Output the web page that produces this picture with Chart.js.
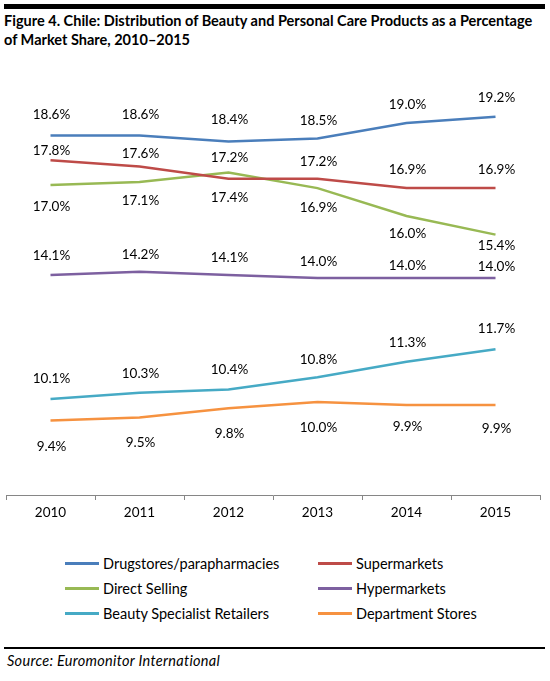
<!DOCTYPE html>
<html>
<head>
<meta charset="utf-8">
<script src="https://cdn.jsdelivr.net/npm/chart.js@4/dist/chart.umd.min.js"></script>
<style>
  body { margin: 0; background: #fff; font-family: Lato, sans-serif; color: #000; }
  #page { position: relative; width: 550px; height: 681px; overflow: hidden; }
  #topbar { position: absolute; left: 4px; top: 4px; width: 541px; height: 5px; background: #000; }
  #title { position: absolute; left: 4px; top: 11px; font-weight: bold; font-size: 13px; line-height: 19px; white-space: nowrap; }
  #chart { position: absolute; left: 0; top: 0; }
  .legrow { position: absolute; height: 20px; display: flex; align-items: center; font-size: 14.5px; white-space: nowrap; }
  .legrow span.swatch { display: inline-block; width: 34px; height: 3px; margin-right: 4px; }
  #rule { position: absolute; left: 4px; top: 647px; width: 541px; height: 2px; background: #000; }
  #source { position: absolute; left: 7px; top: 652px; font-style: italic; font-size: 14.5px; letter-spacing: 0.3px; line-height: 18px; }
</style>
</head>
<body>
<div id="page">
  <div id="topbar"></div>
  <div id="title">Figure 4. Chile: Distribution of Beauty and Personal Care Products as a Percentage<br>of Market Share, 2010–2015</div>
  <canvas id="chart" width="550" height="520"></canvas>
  <div id="legend"></div>
  <div id="rule"></div>
  <div id="source">Source: Euromonitor International</div>
</div>
<script>
// chart values
var years = ['2010', '2011', '2012', '2013', '2014', '2015'];
var drugstores = [18.6, 18.6, 18.4, 18.5, 19.0, 19.2];
var supermarkets = [17.8, 17.6, 17.2, 17.2, 16.9, 16.9];
var directSelling = [17.0, 17.1, 17.4, 16.9, 16.0, 15.4];
var hypermarkets = [14.1, 14.2, 14.1, 14.0, 14.0, 14.0];
var beautySpecialists = [10.1, 10.3, 10.4, 10.8, 11.3, 11.7];
var departmentStores = [9.4, 9.5, 9.8, 10.0, 9.9, 9.9];

// where each value label sits relative to its point (px, minus = above)
var labelShift = {
  drugstores: [-21, -21, -22, -18, -18, -19],
  supermarkets: [-10, -13, -21, -17, -18, -18],
  directSelling: [22, 19, 25, 20, 18, 11],
  hypermarkets: [-19, -17, -17, -16, -12, -11],
  beautySpecialists: [-20, -19, -20, -18, -19, -21],
  departmentStores: [26, 25, 25, 26, 22, 24]
};

function series(label, data, color, shift) {
  return {
    label: label,
    data: data,
    borderColor: color,
    backgroundColor: color,
    borderWidth: 2.5,
    pointRadius: 0,
    tension: 0,
    fill: false,
    clip: false,
    labelShift: shift
  };
}

var valueLabels = {
  id: 'valueLabels',
  afterDatasetsDraw: function(chart) {
    var ctx = chart.ctx;
    ctx.save();
    ctx.font = '13.5px Lato';
    ctx.fillStyle = '#000';
    ctx.textAlign = 'center';
    ctx.textBaseline = 'middle';
    chart.data.datasets.forEach(function(ds, i) {
      chart.getDatasetMeta(i).data.forEach(function(pt, j) {
        ctx.fillText(ds.data[j].toFixed(1) + '%', pt.x + 1, pt.y + ds.labelShift[j]);
      });
    });
    ctx.restore();
  }
};

var chart = new Chart(document.getElementById('chart'), {
  type: 'line',
  data: {
    labels: years,
    datasets: [
      series('Drugstores/parapharmacies', drugstores, '#4A7EBB', labelShift.drugstores),
      series('Supermarkets', supermarkets, '#BE4B48', labelShift.supermarkets),
      series('Direct Selling', directSelling, '#98B954', labelShift.directSelling),
      series('Hypermarkets', hypermarkets, '#7D60A0', labelShift.hypermarkets),
      series('Beauty Specialist Retailers', beautySpecialists, '#46AAC5', labelShift.beautySpecialists),
      series('Department Stores', departmentStores, '#F69240', labelShift.departmentStores)
    ]
  },
  options: {
    responsive: false,
    animation: false,
    layout: { padding: { top: 92, left: 6, right: 10, bottom: 0 } },
    plugins: { legend: { display: false }, tooltip: { enabled: false } },
    scales: {
      x: {
        offset: true,
        grid: { offset: true, drawOnChartArea: false, tickLength: 5, color: '#868686' },
        border: { color: '#868686', width: 1 },
        ticks: { color: '#000', padding: 5, font: { family: 'Lato', size: 13.5 } },
        afterFit: function(s) { s.height = 25; }
      },
      y: { display: false, min: 7, max: 20 }
    }
  },
  plugins: [valueLabels]
});

// legend in two columns, built from the datasets
var legend = document.getElementById('legend');
var cols = [65, 318];
var rows = [553, 578, 603];
chart.data.datasets.forEach(function(ds, i) {
  var row = document.createElement('div');
  row.className = 'legrow';
  row.style.left = cols[i % 2] + 'px';
  row.style.top = rows[Math.floor(i / 2)] + 'px';
  row.innerHTML = '<span class="swatch" style="background:' + ds.borderColor + '"></span>' + ds.label;
  legend.appendChild(row);
});

// fit first title line to the width in the figure
var title = document.getElementById('title');
var mctx = document.createElement('canvas').getContext('2d');
mctx.font = 'bold 13px Lato';
var w = mctx.measureText('Figure 4. Chile: Distribution of Beauty and Personal Care Products as a Percentage').width;
title.style.fontSize = (13 * 529 / w).toFixed(2) + 'px';
</script>
</body>
</html>
